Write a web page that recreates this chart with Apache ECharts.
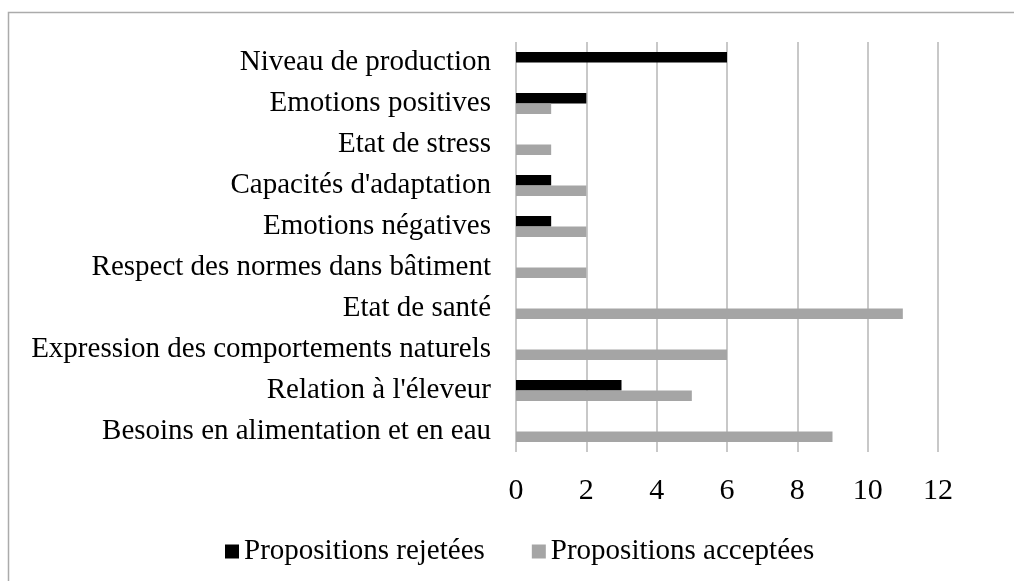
<!DOCTYPE html>
<html>
<head>
<meta charset="utf-8">
<script src="https://cdn.jsdelivr.net/npm/echarts@6/dist/echarts.min.js"></script>
<style>
  html, body { margin: 0; padding: 0; background: #fff; }
  #chart { width: 1014px; height: 581px; }
</style>
</head>
<body>
<div id="chart"></div>
<script>
// Categories listed from the bottom of the axis to the top
const categories = [
  'Besoins en alimentation et en eau',
  "Relation à l'éleveur",
  'Expression des comportements naturels',
  'Etat de santé',
  'Respect des normes dans bâtiment',
  'Emotions négatives',
  "Capacités d'adaptation",
  'Etat de stress',
  'Emotions positives',
  'Niveau de production'
];
const rejected = [0, 3, 0, 0, 0, 1, 1, 0, 2, 6];
const accepted = [9, 5, 6, 11, 2, 2, 2, 1, 1, 0];
const xTicks = { min: 0, max: 12, interval: 2 };

const FONT = '"Liberation Serif", "Times New Roman", serif';

const chart = echarts.init(document.getElementById('chart'), null, { renderer: 'canvas' });
chart.setOption({
  animation: false,
  backgroundColor: '#ffffff',
  graphic: [{
    type: 'rect',
    shape: { x: 8.5, y: 12.5, width: 1100, height: 700 },
    style: { fill: 'none', stroke: '#ababab', lineWidth: 1.5 },
    silent: true
  }],
  grid: { left: 516, top: 42, width: 422, height: 410, containLabel: false },
  legend: {
    left: 220,
    top: 532,
    itemWidth: 14,
    itemHeight: 14,
    itemGap: 47,
    icon: 'rect',
    textStyle: { fontFamily: FONT, fontSize: 29, color: '#000' },
    data: ['Propositions rejetées', 'Propositions acceptées']
  },
  xAxis: {
    type: 'value',
    min: xTicks.min,
    max: xTicks.max,
    interval: xTicks.interval,
    axisLine: { show: false },
    axisTick: { show: false },
    splitLine: { show: true, lineStyle: { color: '#c8c8c8', width: 2 } },
    axisLabel: { fontFamily: FONT, fontSize: 30, color: '#000', margin: 24 }
  },
  yAxis: {
    type: 'category',
    data: categories,
    axisLine: { show: false },
    axisTick: { show: false },
    axisLabel: { fontFamily: FONT, fontSize: 29, color: '#000', margin: 25 }
  },
  series: [
    {
      name: 'Propositions rejetées',
      type: 'bar',
      data: rejected,
      barWidth: 10.5,
      barGap: '0%',
      itemStyle: { color: '#000000' }
    },
    {
      name: 'Propositions acceptées',
      type: 'bar',
      data: accepted,
      barWidth: 10.5,
      barGap: '0%',
      itemStyle: { color: '#a5a5a5' }
    }
  ]
});
</script>
</body>
</html>
